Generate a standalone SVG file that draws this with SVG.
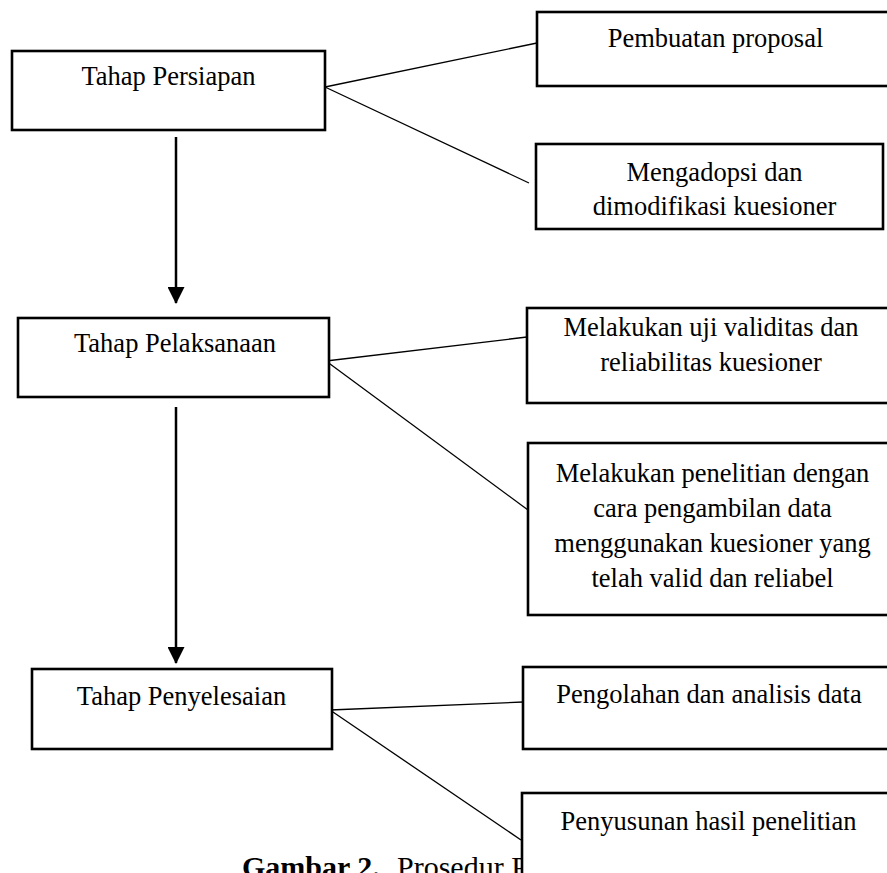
<svg xmlns="http://www.w3.org/2000/svg" width="887" height="873" viewBox="0 0 887 873">
<style>
  .box { fill: #ffffff; stroke: #000000; stroke-width: 2.6; }
  .lbl { font-family: "Liberation Serif", "Times New Roman", serif; font-size: 26.5px; fill: #000000; text-anchor: middle; }
  .link { stroke: #000000; stroke-width: 1.3; fill: none; }
  .flow { stroke: #000000; stroke-width: 2.5; fill: none; }
  .cap { font-family: "Liberation Serif", "Times New Roman", serif; font-size: 30px; fill: #000000; }
</style>
<defs>
  <marker id="arrow" markerUnits="userSpaceOnUse" markerWidth="17" markerHeight="17" refX="16" refY="8.5" orient="auto" viewBox="0 0 17 17">
    <path d="M0,0 L17,8.5 L0,17 Z" fill="#000000"/>
  </marker>
</defs>
<rect x="0" y="0" width="887" height="873" fill="#ffffff"/>

<text id="caption" class="cap" x="242" y="877"><tspan font-weight="bold">Gambar 2.</tspan><tspan x="397">Prosedur Penelitian</tspan></text>

<g id="connectors">
  <line class="link" x1="325" y1="87" x2="537" y2="43"/>
  <line class="link" x1="325" y1="87" x2="529" y2="183"/>
  <line class="link" x1="326" y1="361" x2="527" y2="337"/>
  <line class="link" x1="326" y1="361" x2="528" y2="510"/>
  <line class="link" x1="330" y1="710" x2="523" y2="702"/>
  <line class="link" x1="330" y1="710" x2="521" y2="840"/>
  <line class="flow" x1="176" y1="137" x2="176" y2="303" marker-end="url(#arrow)"/>
  <line class="flow" x1="176" y1="407" x2="176" y2="663" marker-end="url(#arrow)"/>
</g>

<g id="tahap-persiapan">
  <rect class="box" x="12" y="51" width="313" height="79"/>
  <text class="lbl" x="168.5" y="85">Tahap Persiapan</text>
</g>
<g id="tahap-pelaksanaan">
  <rect class="box" x="18" y="318" width="311" height="79"/>
  <text class="lbl" x="175" y="352">Tahap Pelaksanaan</text>
</g>
<g id="tahap-penyelesaian">
  <rect class="box" x="32" y="669" width="300" height="80"/>
  <text class="lbl" x="181.5" y="705">Tahap Penyelesaian</text>
</g>
<g id="pembuatan-proposal">
  <rect class="box" x="537" y="12" width="352" height="74"/>
  <text class="lbl" x="715.5" y="47">Pembuatan proposal</text>
</g>
<g id="mengadopsi">
  <rect class="box" x="536" y="144" width="347" height="85"/>
  <text class="lbl" x="714.5" y="181">Mengadopsi dan</text>
  <text class="lbl" x="714.5" y="215">dimodifikasi kuesioner</text>
</g>
<g id="uji-validitas">
  <rect class="box" x="527" y="308" width="362" height="95"/>
  <text class="lbl" x="711" y="336">Melakukan uji validitas dan</text>
  <text class="lbl" x="711" y="371">reliabilitas kuesioner</text>
</g>
<g id="penelitian">
  <rect class="box" x="528" y="443" width="361" height="172"/>
  <text class="lbl" x="712.5" y="482">Melakukan penelitian dengan</text>
  <text class="lbl" x="712.5" y="517">cara pengambilan data</text>
  <text class="lbl" x="712.5" y="552">menggunakan kuesioner yang</text>
  <text class="lbl" x="712.5" y="587">telah valid dan reliabel</text>
</g>
<g id="pengolahan">
  <rect class="box" x="523" y="667" width="366" height="82"/>
  <text class="lbl" x="709" y="703">Pengolahan dan analisis data</text>
</g>
<g id="penyusunan">
  <rect class="box" x="522" y="793" width="367" height="92"/>
  <text class="lbl" x="708.5" y="830">Penyusunan hasil penelitian</text>
</g>
</svg>
